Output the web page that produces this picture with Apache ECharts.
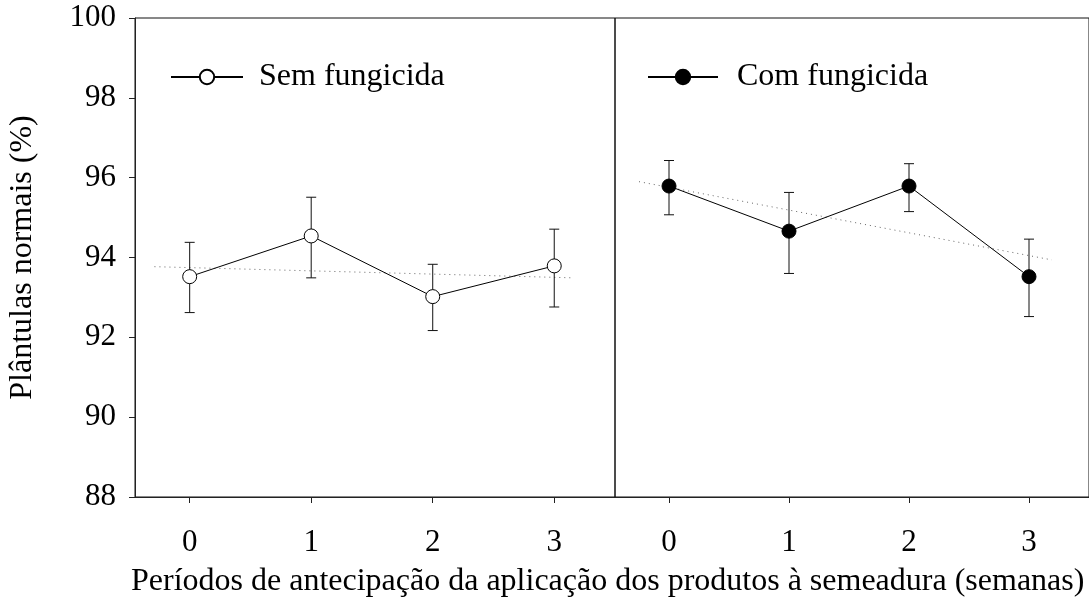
<!DOCTYPE html>
<html>
<head>
<meta charset="utf-8">
<script src="https://cdn.jsdelivr.net/npm/echarts@6/dist/echarts.min.js"></script>
<style>
html,body{margin:0;padding:0;background:#fff;}
#chart{width:1089px;height:607px;}
</style>
</head>
<body>
<div id="chart"></div>
<script>
// ---- data ----
var weeks = [0, 1, 2, 3];
var yTicks = [88, 90, 92, 94, 96, 98, 100];

var semName = 'Sem fungicida';
var semMean = [93.52, 94.54, 93.02, 93.79];
var semLow  = [92.62, 93.49, 92.17, 92.76];
var semHigh = [94.38, 95.51, 93.83, 94.71];
var semTrendX = [-0.29, 3.16];
var semTrendY = [93.77, 93.49];

var comName = 'Com fungicida';
var comMean = [95.79, 94.66, 95.79, 93.52];
var comLow  = [95.07, 93.60, 95.15, 92.52];
var comHigh = [96.43, 95.63, 96.35, 94.46];
var comTrendX = [-0.25, 3.19];
var comTrendY = [95.90, 93.94];

var xTitle = 'Períodos de antecipação da aplicação dos produtos à semeadura (semanas)';
var yTitle = 'Plântulas normais (%)';

// ---- build ----
var FONT = "'Liberation Serif','Times New Roman',serif";
var chart = echarts.init(document.getElementById('chart'), null, {renderer: 'canvas'});

function pts(xs, ys) { return xs.map(function (x, i) { return [x, ys[i]]; }); }
function bars(xs, lo, hi) { return xs.map(function (x, i) { return [x, lo[i], hi[i]]; }); }

function errorSeries(idx, data) {
  return {
    type: 'custom', xAxisIndex: idx, yAxisIndex: idx, z: 2, silent: true,
    data: data,
    renderItem: function (params, api) {
      var x = api.value(0);
      var lo = api.coord([x, api.value(1)]);
      var hi = api.coord([x, api.value(2)]);
      var w = 5;
      var style = {stroke: '#111', lineWidth: 1};
      return {
        type: 'group',
        children: [
          {type: 'line', shape: {x1: lo[0], y1: lo[1], x2: hi[0], y2: hi[1]}, style: style},
          {type: 'line', shape: {x1: lo[0] - w, y1: lo[1], x2: lo[0] + w, y2: lo[1]}, style: style},
          {type: 'line', shape: {x1: hi[0] - w, y1: hi[1], x2: hi[0] + w, y2: hi[1]}, style: style}
        ]
      };
    }
  };
}

function xAxis(idx) {
  return {
    type: 'value', gridIndex: idx, min: -0.45, max: 3.5, interval: 1,
    axisLine: {show: true, onZero: false, lineStyle: {color: '#222', width: 1}},
    axisTick: {show: true, inside: false, length: 6, lineStyle: {color: '#222'},
      customValues: weeks},
    axisLabel: {show: true, margin: 30, color: '#000', fontFamily: FONT, fontSize: 31,
      customValues: weeks},
    splitLine: {show: false}
  };
}

var option = {
  backgroundColor: '#fff',
  animation: false,
  grid: [
    {left: 135, top: 18, width: 480, height: 479, show: true, borderColor: '#111', borderWidth: 1},
    {left: 615, top: 18, width: 480, height: 479, show: true, borderColor: '#111', borderWidth: 1}
  ],
  xAxis: [xAxis(0), xAxis(1)],
  yAxis: [
    {
      type: 'value', gridIndex: 0, min: 88, max: 100, interval: 2,
      axisLine: {show: true, onZero: false, lineStyle: {color: '#222'}},
      axisTick: {show: true, inside: false, length: 6, lineStyle: {color: '#222'}},
      axisLabel: {margin: 19, color: '#000', fontFamily: FONT, fontSize: 31,
        formatter: function (v) { return yTicks.indexOf(v) >= 0 ? String(v) : ''; }},
      splitLine: {show: false},
      name: yTitle, nameLocation: 'middle', nameGap: 96, nameRotate: 90,
      nameTextStyle: {color: '#000', fontFamily: FONT, fontSize: 32}
    },
    {
      type: 'value', gridIndex: 1, min: 88, max: 100, interval: 2,
      axisLine: {show: false, onZero: false}, axisTick: {show: false}, axisLabel: {show: false},
      splitLine: {show: false}
    }
  ],
  legend: [
    {
      data: [semName], left: 165, top: 56, itemWidth: 72, itemHeight: 18, itemGap: 0,
      textStyle: {color: '#000', fontFamily: FONT, fontSize: 32, padding: [0, 0, 0, 11]},
      selectedMode: false
    },
    {
      data: [comName], left: 642, top: 56, itemWidth: 70, itemHeight: 18, itemGap: 0,
      textStyle: {color: '#000', fontFamily: FONT, fontSize: 32, padding: [0, 0, 0, 14]},
      selectedMode: false
    }
  ],
  graphic: [
    {
      type: 'text', left: 131, top: 566,
      style: {text: xTitle, fill: '#000', font: '32px ' + FONT}
    }
  ],
  series: [
    {
      type: 'line', xAxisIndex: 0, yAxisIndex: 0, z: 1, silent: true,
      data: pts(semTrendX, semTrendY), symbol: 'none',
      lineStyle: {color: '#666', width: 1, type: [1, 4]}
    },
    {
      type: 'line', xAxisIndex: 1, yAxisIndex: 1, z: 1, silent: true,
      data: pts(comTrendX, comTrendY), symbol: 'none',
      lineStyle: {color: '#666', width: 1, type: [1, 4]}
    },
    errorSeries(0, bars(weeks, semLow, semHigh)),
    errorSeries(1, bars(weeks, comLow, comHigh)),
    {
      name: semName, type: 'line', xAxisIndex: 0, yAxisIndex: 0, z: 3,
      data: pts(weeks, semMean), symbol: 'circle', symbolSize: 14,
      itemStyle: {color: '#fff', borderColor: '#000', borderWidth: 1},
      lineStyle: {color: '#000', width: 1}
    },
    {
      name: comName, type: 'line', xAxisIndex: 1, yAxisIndex: 1, z: 3,
      data: pts(weeks, comMean), symbol: 'circle', symbolSize: 14,
      itemStyle: {color: '#000', borderColor: '#000', borderWidth: 1},
      lineStyle: {color: '#000', width: 1}
    }
  ]
};
chart.setOption(option);
</script>
</body>
</html>
